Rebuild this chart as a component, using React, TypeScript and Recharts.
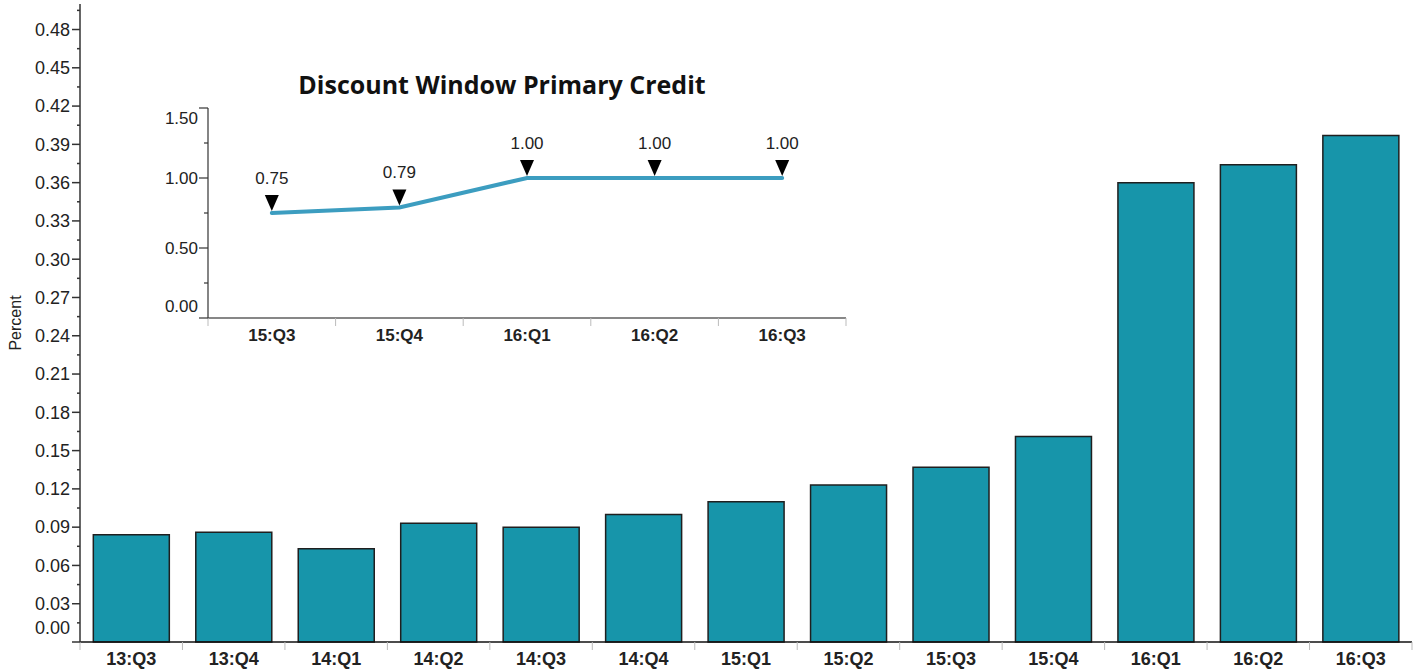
import React from "react";
import { Bar, BarChart, Line, LineChart, LabelList, XAxis, YAxis } from "recharts";

// main chart: quarterly values, percent
const quarters = ["13:Q3", "13:Q4", "14:Q1", "14:Q2", "14:Q3", "14:Q4", "15:Q1", "15:Q2", "15:Q3", "15:Q4", "16:Q1", "16:Q2", "16:Q3"];
const rates = [0.084, 0.086, 0.073, 0.093, 0.09, 0.1, 0.11, 0.123, 0.137, 0.161, 0.36, 0.374, 0.397];
const yTicks = Array.from({ length: 34 }, (_, i) => Math.round(i * 15) / 1000);

// inset: discount window primary credit
const insetQuarters = ["15:Q3", "15:Q4", "16:Q1", "16:Q2", "16:Q3"];
const insetRates = [0.75, 0.79, 1.0, 1.0, 1.0];
const insetTicks = [0, 0.25, 0.5, 0.75, 1, 1.25, 1.5];

const mainData = quarters.map((q, i) => ({ q, v: rates[i] }));
const insetData = insetQuarters.map((q, i) => ({ q, v: insetRates[i] }));

const FONT = "'Liberation Sans', Arial, sans-serif";
const BAR = "#1795aa";
const LINE = "#3c9dc0";
const AXIS = "#333";
const BORDER = "#9a9a9a";

const MAIN_BAND = (1412 - 80) / quarters.length;
const INSET_BAND = (846 - 208) / insetQuarters.length;

function MainYTick({ x, y, payload }: any) {
  const v = payload.value as number;
  const major = Math.round(v * 1000) % 30 === 0;
  if (!major) return <line x1={x - 3} x2={x} y1={y} y2={y} stroke={AXIS} strokeWidth={1.5} />;
  return (
    <g>
      <line x1={x - 8} x2={x} y1={y} y2={y} stroke={AXIS} strokeWidth={1.5} />
      <text x={x - 10} y={v === 0 ? y - 14 : y} dy="0.35em" textAnchor="end" fontSize={18} fill="#222" fontFamily={FONT}>
        {v.toFixed(2)}
      </text>
    </g>
  );
}

function BandTick({ x, y, payload, index, band, last, size }: any) {
  return (
    <g>
      <line x1={x - band / 2} x2={x - band / 2} y1={y} y2={y + 8} stroke="#bbb" />
      {index === last && <line x1={x + band / 2} x2={x + band / 2} y1={y} y2={y + 8} stroke="#bbb" />}
      <text x={x} y={y + 23} textAnchor="middle" fontSize={size} fontWeight="bold" fill="#222" fontFamily={FONT}>
        {payload.value}
      </text>
    </g>
  );
}

function InsetYTick({ x, y, payload }: any) {
  const v = payload.value as number;
  const major = Math.round(v * 100) % 50 === 0;
  if (!major) return <line x1={x - 4} x2={x} y1={y} y2={y} stroke={AXIS} strokeWidth={1.2} />;
  const shift = v === 1.5 ? 10 : v === 0 ? -12 : 0;
  return (
    <g>
      <line x1={x - 9} x2={x} y1={y} y2={y} stroke={AXIS} strokeWidth={1.2} />
      <text x={x - 10} y={y + shift} dy="0.35em" textAnchor="end" fontSize={17} fill="#222" fontFamily={FONT}>
        {v.toFixed(2)}
      </text>
    </g>
  );
}

function Marker({ cx, cy, index }: any) {
  return <path key={index} d={`M${cx - 7},${cy - 18} L${cx + 7},${cy - 18} L${cx},${cy - 2} Z`} fill="#000" />;
}

function MarkerLabel({ x, y, value }: any) {
  return (
    <text x={x} y={y - 29} textAnchor="middle" fontSize={17} fill="#222" fontFamily={FONT}>
      {Number(value).toFixed(2)}
    </text>
  );
}

export default function App() {
  return (
    <div style={{ position: "absolute", left: 0, top: 0, width: 1421, height: 672, background: "#fff" }}>
      <BarChart width={1421} height={672} data={mainData} margin={{ top: 4, right: 9, left: 0, bottom: 0 }} barCategoryGap="13%">
        <XAxis
          dataKey="q"
          height={30}
          tickSize={0}
          tickMargin={0}
          interval={0}
          axisLine={{ stroke: "#111", strokeWidth: 1.5 }}
          tick={(p: any) => <BandTick {...p} band={MAIN_BAND} last={quarters.length - 1} size={18} />}
        />
        <XAxis xAxisId="top" orientation="top" dataKey="q" height={0} tick={false} tickLine={false} axisLine={{ stroke: BORDER }} />
        <YAxis
          width={80}
          domain={[0, 0.5]}
          ticks={yTicks}
          interval={0}
          tickSize={0}
          tickMargin={0}
          axisLine={{ stroke: AXIS, strokeWidth: 1.5 }}
          tick={<MainYTick />}
          label={{ value: "Percent", angle: -90, position: "insideLeft", offset: 15, style: { textAnchor: "middle", fontSize: 16, fill: "#222", fontFamily: FONT } }}
        />
        <YAxis yAxisId="right" orientation="right" width={0} tick={false} tickLine={false} axisLine={{ stroke: BORDER }} />
        <Bar dataKey="v" fill={BAR} stroke="#1f1f1f" strokeWidth={1.5} isAnimationActive={false} />
      </BarChart>

      <div
        style={{
          position: "absolute",
          left: 158,
          top: 69,
          width: 688,
          textAlign: "center",
          fontFamily: "'Open Sans', sans-serif",
          fontWeight: 700,
          fontSize: 25,
          lineHeight: "30px",
          color: "#111",
        }}
      >
        Discount Window Primary Credit
      </div>

      <div style={{ position: "absolute", left: 150, top: 60 }}>
        <LineChart width={700} height={290} data={insetData} margin={{ top: 48, right: 4, left: 0, bottom: 0 }}>
          <XAxis
            dataKey="q"
            scale="band"
            height={32}
            tickSize={0}
            tickMargin={0}
            interval={0}
            axisLine={{ stroke: "#111", strokeWidth: 1.2 }}
            tick={(p: any) => <BandTick {...p} band={INSET_BAND} last={insetQuarters.length - 1} size={17} />}
          />
          <XAxis xAxisId="top" orientation="top" dataKey="q" height={0} tick={false} tickLine={false} axisLine={{ stroke: BORDER }} />
          <YAxis
            width={58}
            domain={[0, 1.5]}
            ticks={insetTicks}
            interval={0}
            tickSize={0}
            tickMargin={0}
            axisLine={{ stroke: AXIS, strokeWidth: 1.2 }}
            tick={<InsetYTick />}
          />
          <YAxis yAxisId="right" orientation="right" width={0} tick={false} tickLine={false} axisLine={{ stroke: BORDER }} />
          <Line type="linear" dataKey="v" stroke={LINE} strokeWidth={4} strokeLinecap="round" dot={<Marker />} activeDot={false} isAnimationActive={false}>
            <LabelList dataKey="v" content={<MarkerLabel />} />
          </Line>
        </LineChart>
      </div>
    </div>
  );
}
